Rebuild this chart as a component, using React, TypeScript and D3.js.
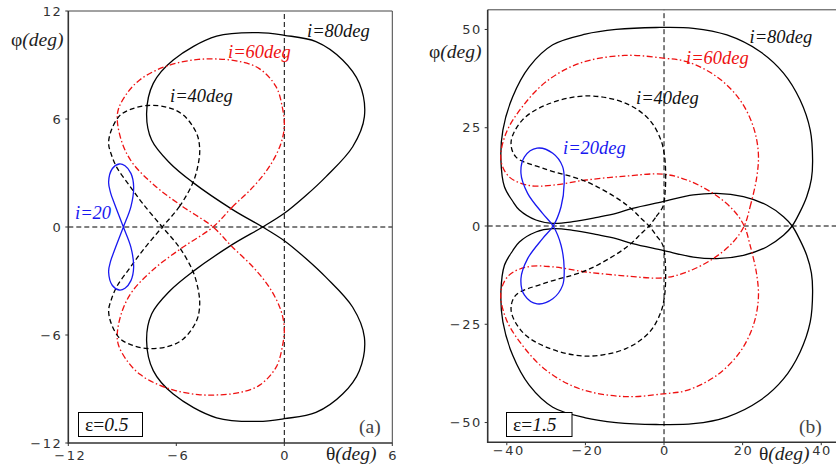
import React from 'react';
import * as d3 from 'd3';

type Pt = [number, number];

// ---------- Panel (a): epsilon = 0.5 ----------
const aI80: Pt[] = [
  [-1.2, 0], [0, 0.76], [1.2, 1.75], [2.32, 2.8], [3.8, 4.46], [4.45, 6.13], [4.17, 7.98], [3.24, 9.28],
  [1.76, 10.3], [0, 10.65], [-1.45, 10.8], [-3.76, 10.6], [-6.17, 9.28], [-7.28, 7.98], [-7.65, 6.32],
  [-7.37, 4.83], [-6.35, 3.54], [-5.14, 2.52], [-2.83, 0.94],
  [-1.2, 0], [0, -0.76], [1.2, -1.75], [2.32, -2.8], [3.8, -4.46], [4.45, -6.13], [4.17, -7.98], [3.24, -9.28],
  [1.76, -10.3], [0, -10.65], [-1.45, -10.8], [-3.76, -10.6], [-6.17, -9.28], [-7.28, -7.98], [-7.65, -6.32],
  [-7.37, -4.83], [-6.35, -3.54], [-5.14, -2.52], [-2.83, -0.94],
];
const aI60: Pt[] = [
  [-3.96, 0], [-2.9, 1.1], [-1.72, 2.24], [-0.8, 3.4], [-0.2, 4.6], [0, 5.6], [-0.1, 6.6], [-0.46, 7.8],
  [-1.39, 8.8], [-2.5, 9.2], [-3.7, 9.33], [-4.78, 9.31], [-6.0, 9.1], [-7.09, 8.72], [-8.0, 8.2],
  [-8.67, 7.52], [-9.2, 6.6], [-9.28, 5.94], [-9.0, 4.65], [-8.42, 3.54], [-7.13, 2.24], [-5.64, 1.13],
  [-3.96, 0], [-2.9, -1.1], [-1.72, -2.24], [-0.8, -3.4], [-0.2, -4.6], [0, -5.6], [-0.1, -6.6], [-0.46, -7.8],
  [-1.39, -8.8], [-2.5, -9.2], [-3.7, -9.33], [-4.78, -9.31], [-6.0, -9.1], [-7.09, -8.72], [-8.0, -8.2],
  [-8.67, -7.52], [-9.2, -6.6], [-9.28, -5.94], [-9.0, -4.65], [-8.42, -3.54], [-7.13, -2.24], [-5.64, -1.13],
];
const aI40: Pt[] = [
  [-6.78, 0], [-5.83, 1.13], [-5.09, 2.43], [-4.8, 3.4], [-4.7, 4.3], [-4.87, 5.2], [-5.61, 6.22],
  [-6.5, 6.65], [-7.6, 6.75], [-8.5, 6.55], [-9.13, 6.2], [-9.6, 5.4], [-9.76, 4.65], [-9.6, 4.0],
  [-9.3, 3.3], [-8.6, 2.3], [-7.87, 1.31],
  [-6.78, 0], [-5.83, -1.13], [-5.09, -2.43], [-4.8, -3.4], [-4.7, -4.3], [-4.87, -5.2], [-5.61, -6.22],
  [-6.5, -6.65], [-7.6, -6.75], [-8.5, -6.55], [-9.13, -6.2], [-9.6, -5.4], [-9.76, -4.65], [-9.6, -4.0],
  [-9.3, -3.3], [-8.6, -2.3], [-7.87, -1.31],
];
const aI20: Pt[] = [
  [-8.94, 0], [-8.52, 1.13], [-8.37, 2.24], [-8.52, 2.98], [-8.85, 3.4], [-9.17, 3.5], [-9.55, 3.25],
  [-9.76, 2.5], [-9.65, 1.9], [-9.44, 1.31],
  [-8.94, 0], [-8.52, -1.13], [-8.37, -2.24], [-8.52, -2.98], [-8.85, -3.4], [-9.17, -3.5], [-9.55, -3.25],
  [-9.76, -2.5], [-9.65, -1.9], [-9.44, -1.31],
];

// ---------- Panel (b): epsilon = 1.5 ----------
const bI80: Pt[] = [
  [32.6, 0], [34.6, 3.6], [36.3, 7.46], [37.5, 12], [37.8, 16.8], [37.2, 24.4], [34.6, 32.1], [30.4, 38.9],
  [24.4, 44.4], [16.0, 48.6], [7.46, 50.3], [-2.0, 50.5], [-12.2, 50.0], [-20, 48.8], [-28.3, 46.1],
  [-34.3, 40.5], [-38.5, 32.9], [-41.0, 24.4], [-41.5, 16.8], [-40.6, 10.0], [-38.5, 6.3], [-36.8, 4.07],
  [-32.6, 1.53], [-28.3, 0.69], [-23.2, 1.1], [-17, 2.2], [-12.2, 3.2], [-8.0, 4.5], [-0.3, 6.2],
  [7.46, 7.9], [13.4, 8.3], [20.2, 7.46], [26.1, 5.34], [30.4, 2.37],
  [32.6, 0], [34.6, -3.6], [36.3, -7.46], [37.5, -12], [37.8, -16.8], [37.2, -24.4], [34.6, -32.1], [30.4, -38.9],
  [24.4, -44.4], [16.0, -48.6], [7.46, -50.3], [-2.0, -50.5], [-12.2, -50.0], [-20, -48.8], [-28.3, -46.1],
  [-34.3, -40.5], [-38.5, -32.9], [-41.0, -24.4], [-41.5, -16.8], [-40.6, -10.0], [-38.5, -6.3], [-36.8, -4.07],
  [-32.6, -1.53], [-28.3, -0.69], [-23.2, -1.1], [-17, -2.2], [-12.2, -3.2], [-8.0, -4.5], [-0.3, -6.2],
  [7.46, -7.9], [13.4, -8.3], [20.2, -7.46], [26.1, -5.34], [30.4, -2.37],
];
const bI60: Pt[] = [
  [20.4, 0], [21.9, 4.9], [23.6, 12.5], [24.0, 18.5], [22.7, 25.3], [19.3, 32.1], [13.4, 38.0], [5.8, 41.8],
  [-0.2, 42.7], [-10, 43.4], [-21.5, 41.4], [-30.0, 36.7], [-36.0, 30.4], [-40.2, 23.6], [-41.5, 16.8],
  [-39.4, 12.5], [-34.3, 10.3], [-28.3, 10.4], [-19.8, 11.7], [-9.7, 12.7], [-0.3, 13.2], [5.8, 11.7],
  [12.5, 8.3], [17.6, 4.07],
  [20.4, 0], [21.9, -4.9], [23.6, -12.5], [24.0, -18.5], [22.7, -25.3], [19.3, -32.1], [13.4, -38.0], [5.8, -41.8],
  [-0.2, -42.7], [-10, -43.4], [-21.5, -41.4], [-30.0, -36.7], [-36.0, -30.4], [-40.2, -23.6], [-41.5, -16.8],
  [-39.4, -12.5], [-34.3, -10.3], [-28.3, -10.4], [-19.8, -11.7], [-9.7, -12.7], [-0.3, -13.2], [5.8, -11.7],
  [12.5, -8.3], [17.6, -4.07],
];
const bI40: Pt[] = [
  [-3.8, 0], [-2, 2.4], [-0.3, 4.9], [0.3, 9], [0.4, 14], [0.1, 18], [-0.8, 21.9], [-3.7, 27.0],
  [-9.7, 31.2], [-19.8, 33.1], [-30.0, 30.8], [-36.0, 27.0], [-38.9, 21.5], [-37.7, 17.6], [-30.9, 14.7],
  [-19.8, 11.3], [-11.4, 6.7], [-8.0, 4.1], [-6.0, 2.1],
  [-3.8, 0], [-2, -2.4], [-0.3, -4.9], [0.3, -9], [0.4, -14], [0.1, -18], [-0.8, -21.9], [-3.7, -27.0],
  [-9.7, -31.2], [-19.8, -33.1], [-30.0, -30.8], [-36.0, -27.0], [-38.9, -21.5], [-37.7, -17.6], [-30.9, -14.7],
  [-19.8, -11.3], [-11.4, -6.7], [-8.0, -4.1], [-6.0, -2.1],
];
const bI20: Pt[] = [
  [-28.2, 0], [-26.2, 4.9], [-25.4, 10.9], [-25.8, 15.1], [-28.3, 18.5], [-32.3, 19.8], [-35.5, 17.6],
  [-36.4, 13.4], [-34.7, 8.3], [-30.9, 3.2],
  [-28.2, 0], [-26.2, -4.9], [-25.4, -10.9], [-25.8, -15.1], [-28.3, -18.5], [-32.3, -19.8], [-35.5, -17.6],
  [-36.4, -13.4], [-34.7, -8.3], [-30.9, -3.2],
];

const aXTicks = [-12, -6, 0, 6];
const aYTicks = [-12, -6, 0, 6, 12];
const bXTicks = [-40, -20, 0, 20, 40];
const bYTicks = [-50, -25, 0, 25, 50];

const SERIF = '"Liberation Serif", "Times New Roman", serif';
const SANS = '"DejaVu Sans", sans-serif';
const RED = '#ee1111';
const BLUE = '#1818f0';

const fmt = (t: number) => (t < 0 ? '\u2212' + Math.abs(t) : String(t));

type Series = { data: Pt[]; color: string; dash?: string };

function Panel(props: {
  xs: d3.ScaleLinear<number, number>;
  ys: d3.ScaleLinear<number, number>;
  series: Series[];
  xTicks: number[];
  yTicks: number[];
  xTickBaseline: number;
}) {
  const { xs, ys, series, xTicks, yTicks, xTickBaseline } = props;
  const [x0, x1] = xs.range();
  const [yb, yt] = ys.range();
  const line = d3
    .line<Pt>()
    .x((d) => xs(d[0]))
    .y((d) => ys(d[1]))
    .curve(d3.curveCatmullRomClosed.alpha(0.5));
  return (
    <g>
      <line x1={x0} x2={x1} y1={ys(0)} y2={ys(0)} stroke="#000" strokeWidth={1} strokeDasharray="5,3" />
      <line x1={xs(0)} x2={xs(0)} y1={yb} y2={yt} stroke="#000" strokeWidth={1} strokeDasharray="5,3" />
      {series.map((s, i) => (
        <path key={i} d={line(s.data) || ''} fill="none" stroke={s.color} strokeWidth={1.3}
          strokeDasharray={s.dash} strokeLinejoin="round" />
      ))}
      <line x1={x0} x2={x1} y1={yt} y2={yt} stroke="#444" strokeWidth={1} />
      <line x1={x1} x2={x1} y1={yt} y2={yb} stroke="#444" strokeWidth={1} />
      <line x1={x0} x2={x0} y1={yt} y2={yb + 0.75} stroke="#333" strokeWidth={1.6} />
      <line x1={x0} x2={x1} y1={yb} y2={yb} stroke="#333" strokeWidth={1.6} />
      {yTicks.map((t) => (
        <g key={'y' + t}>
          <line x1={x0 - 3} x2={x0} y1={ys(t)} y2={ys(t)} stroke="#333" strokeWidth={1} />
          <text x={x0 - 6} y={ys(t)} dy="0.36em" textAnchor="end" fontFamily={SANS} fontSize={13}
            letterSpacing={1.5} fill="#333">{fmt(t)}</text>
        </g>
      ))}
      {xTicks.map((t) => (
        <g key={'x' + t}>
          <line x1={xs(t)} x2={xs(t)} y1={yb} y2={yb + 3} stroke="#333" strokeWidth={1} />
          <text x={xs(t) + (t < 0 ? 2 : 0.8)} y={xTickBaseline} textAnchor="middle" fontFamily={SANS}
            fontSize={13} letterSpacing={1.5} fill="#333">{fmt(t)}</text>
        </g>
      ))}
    </g>
  );
}

export default function App() {
  const axs = d3.scaleLinear().domain([-12, 6]).range([68.3, 392.3]);
  const ays = d3.scaleLinear().domain([-12, 12]).range([443, 11]);
  const bxs = d3.scaleLinear().domain([-44.86, 45]).range([487.7, 840.9]);
  const bys = d3.scaleLinear().domain([-55, 55]).range([442.2, 9.8]);

  const aSeries: Series[] = [
    { data: aI80, color: '#000' },
    { data: aI60, color: RED, dash: '6,2.5,1.5,2.5' },
    { data: aI40, color: '#000', dash: '5,3' },
    { data: aI20, color: BLUE },
  ];
  const bSeries: Series[] = [
    { data: bI80, color: '#000' },
    { data: bI60, color: RED, dash: '6,2.5,1.5,2.5' },
    { data: bI40, color: '#000', dash: '5,3' },
    { data: bI20, color: BLUE },
  ];

  const lab = { fontFamily: SERIF, fontSize: 18.5, fontStyle: 'italic' as const };
  const big = { fontFamily: SERIF, fontSize: 19.5 };

  return (
    <svg width={836} height={468} style={{ position: 'absolute', left: 0, top: 0, background: '#fff' }}>
      <rect x={0} y={0} width={836} height={468} fill="#fff" />
      <Panel xs={axs} ys={ays} series={aSeries} xTicks={aXTicks} yTicks={aYTicks} xTickBaseline={460} />
      <Panel xs={bxs} ys={bys} series={bSeries} xTicks={bXTicks} yTicks={bYTicks} xTickBaseline={455} />

      {/* panel (a) labels */}
      <text x={307} y={37} {...lab} fill="#111">i=80deg</text>
      <text x={228} y={57.5} {...lab} fill={RED}>i=60deg</text>
      <text x={170} y={101.5} {...lab} fill="#111">i=40deg</text>
      <text x={75} y={218.5} {...lab} fill={BLUE}>i=20</text>
      <text x={11} y={46} {...big} fill="#222">φ<tspan fontStyle="italic">(deg)</tspan></text>
      <text x={326} y={460} {...big} fill="#222">θ<tspan fontStyle="italic">(deg)</tspan></text>
      <rect x={78.5} y={412.5} width={64} height={24} fill="#fff" stroke="#000" strokeWidth={1} />
      <text x={85} y={430.5} {...big} fill="#111">ε=<tspan fontStyle="italic">0.5</tspan></text>
      <text x={359} y={432.5} {...big} fill="#444">(a)</text>

      {/* panel (b) labels */}
      <text x={749.5} y={42.5} {...lab} fill="#111">i=80deg</text>
      <text x={686} y={63.5} {...lab} fill={RED}>i=60deg</text>
      <text x={636} y={103.5} {...lab} fill="#111">i=40deg</text>
      <text x={563} y={153.5} {...lab} fill={BLUE}>i=20deg</text>
      <text x={429} y={58} {...big} fill="#222">φ<tspan fontStyle="italic">(deg)</tspan></text>
      <text x={759} y={460} {...big} fill="#222">θ<tspan fontStyle="italic">(deg)</tspan></text>
      <rect x={506.5} y={412.5} width={65.5} height={24} fill="#fff" stroke="#000" strokeWidth={1} />
      <text x={513} y={430.5} {...big} fill="#111">ε=<tspan fontStyle="italic">1.5</tspan></text>
      <text x={799} y={432.5} {...big} fill="#444">(b)</text>
    </svg>
  );
}
